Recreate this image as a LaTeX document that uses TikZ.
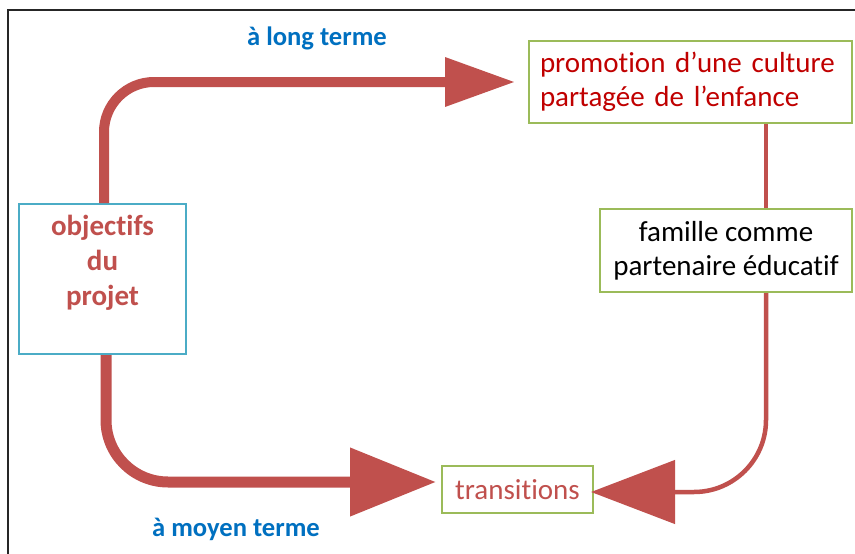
\documentclass[tikz,border=0pt]{standalone}
\usepackage{fontspec}
\setmainfont{Carlito}[Ligatures={NoCommon}]
\usetikzlibrary{arrows.meta}
\definecolor{cred}{HTML}{C0504D}
\definecolor{dred}{HTML}{C00000}
\definecolor{cblue}{HTML}{4BACC6}
\definecolor{cgreen}{HTML}{9BBB59}
\definecolor{lblue}{HTML}{0070C0}
\tikzset{
  box/.style={draw=cgreen, line width=2pt, fill=white, inner sep=0pt, font=\fontsize{29}{34}\selectfont},
  lbl/.style={text=lblue, font=\bfseries\fontsize{26.6}{30}\selectfont, inner sep=0pt},
  conn/.style={draw=cred, line width=10pt},
}
\begin{document}
\begin{tikzpicture}[x=1pt,y=-1pt]
\useasboundingbox (0,0) rectangle (855,554);
\fill[white] (0,0) rectangle (855,554);
% frame
\coordinate (fbl) at (8,556);
\coordinate (ftl) at (8,10);
\coordinate (ftr) at (857,10);
\draw[line width=1.6pt, black!85] (fbl) -- (ftl) -- (ftr);

\node[box, minimum width=323pt, minimum height=82pt, text=dred, align=left, text width=301pt] (prom) at (690.5,82) {promotion d’une culture\\partagée de l’enfance};
\node[box, minimum width=252pt, minimum height=83pt, text=black, align=center] (fam) at (726,250.5) {famille comme\\partenaire éducatif};
\node[box, minimum width=151pt, minimum height=47pt, text=cred] (trans) at (517.5,489.5) {transitions};
\node[box, draw=cblue, minimum width=167pt, minimum height=150pt, text=cred, align=center, font=\bfseries\fontsize{29}{35}\selectfont] (obj) at (102.5,279) {objectifs\\du\\projet\\[2pt]};

\node[lbl] (lt) at (317,38) {à long terme};
\node[lbl] (mt) at (236,529) {à moyen terme};

% connectors
\draw[conn, rounded corners=50pt, -{Triangle[length=70pt,width=47pt]}, shorten >=13pt]
  ([xshift=1.5pt]obj.north) |- (prom.west);
\draw[conn, line width=11pt, rounded corners=62pt, -{Triangle[length=86pt,width=66pt]}, shorten >=5pt]
  ([xshift=3.5pt]obj.south) |- ([yshift=7.5pt]trans.west);
\draw[conn, line width=4.5pt] ([xshift=75.5pt]prom.south) -- ([xshift=40pt]fam.north);
\draw[conn, line width=4.5pt, rounded corners=72pt, -{Triangle[length=84pt,width=63pt]}, shorten >=-3pt]
  ([xshift=40pt]fam.south) |- ([yshift=-2.5pt]trans.east);
\end{tikzpicture}
\end{document}
